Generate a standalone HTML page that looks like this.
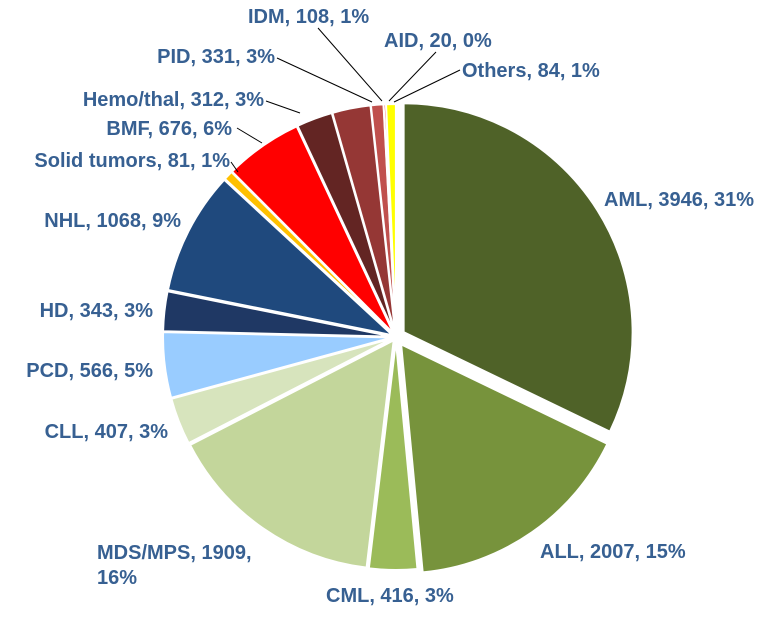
<!DOCTYPE html>
<html><head><meta charset="utf-8"><style>
html,body{margin:0;padding:0;background:#fff;}
svg text{font-family:"Liberation Sans",Arial,sans-serif;font-weight:bold;font-size:20px;fill:#376092;}
</style></head><body>
<svg id="s" width="770" height="620" xmlns="http://www.w3.org/2000/svg">
<g id="pie"></g>
<g stroke="#000" stroke-width="1" fill="none">
<polyline points="231,162 238,172"/>
<polyline points="237,128 262,143"/>
<polyline points="266,101 300,113"/>
<polyline points="277,58 372,102"/>
<polyline points="318,28 382,101"/>
<polyline points="436,52 389,101"/>
<polyline points="460,70 394,102"/>
</g>
<text x="604" y="206">AML, 3946, 31%</text>
<text x="540" y="558">ALL, 2007, 15%</text>
<text x="326" y="602">CML, 416, 3%</text>
<text x="97" y="559">MDS/MPS, 1909,</text>
<text x="97" y="584">16%</text>
<text x="168" y="438" text-anchor="end">CLL, 407, 3%</text>
<text x="153" y="377" text-anchor="end">PCD, 566, 5%</text>
<text x="153" y="317" text-anchor="end">HD, 343, 3%</text>
<text x="181" y="227" text-anchor="end">NHL, 1068, 9%</text>
<text x="230" y="167" text-anchor="end">Solid tumors, 81, 1%</text>
<text x="232" y="135" text-anchor="end">BMF, 676, 6%</text>
<text x="264" y="106" text-anchor="end">Hemo/thal, 312, 3%</text>
<text x="275" y="63" text-anchor="end">PID, 331, 3%</text>
<text x="248" y="23">IDM, 108, 1%</text>
<text x="384" y="47">AID, 20, 0%</text>
<text x="462" y="77">Others, 84, 1%</text>
</svg>
<script>
var d=[[3946,"#4f6228",9],[2007,"#77933c",9],[416,"#9bbb59",4],[1909,"#c3d69b",4],[407,"#d7e4bd",4],[566,"#99ccff",4],[343,"#1f3864",4],[1068,"#1f497d",4],[81,"#ffc000",4],[676,"#ff0000",4],[312,"#632523",4],[331,"#953735",4],[108,"#c0504d",4],[20,"#ff0000",4],[84,"#ffff00",4]];
var tot=0;d.forEach(function(x){tot+=x[0];});
var cx=396,cy=337,r=229,a=0,h="";
d.forEach(function(x){
 var a0=a,a1=a+x[0]/tot*2*Math.PI;a=a1;
 var m=(a0+a1)/2,ox=cx+x[2]*Math.sin(m),oy=cy-x[2]*Math.cos(m);
 var x0=ox+r*Math.sin(a0),y0=oy-r*Math.cos(a0),x1=ox+r*Math.sin(a1),y1=oy-r*Math.cos(a1);
 var lg=(a1-a0)>Math.PI?1:0;
 h+='<path d="M'+ox+','+oy+' L'+x0+','+y0+' A'+r+','+r+' 0 '+lg+' 1 '+x1+','+y1+' Z" fill="'+x[1]+'" stroke="#fff" stroke-width="2" stroke-linejoin="round"/>';
});
document.getElementById("pie").innerHTML=h;
</script>
</body></html>
